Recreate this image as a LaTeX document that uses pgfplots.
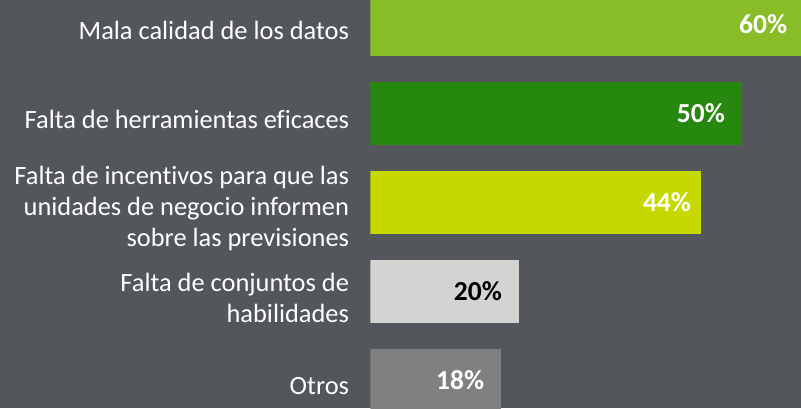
\documentclass[border=0pt]{standalone}
\usepackage{fontspec}
\setmainfont{Carlito}[Ligatures={NoCommon}]
\usepackage{pgfplots}
\pgfplotsset{compat=1.18}
\definecolor{bgcol}{HTML}{53565B}
\definecolor{barA}{HTML}{89BD28}
\definecolor{barB}{HTML}{26880E}
\definecolor{barC}{HTML}{C5D800}
\definecolor{barD}{HTML}{D3D3D2}
\definecolor{barE}{HTML}{808080}

\begin{document}
\begin{tikzpicture}
\path[use as bounding box] (0,0) rectangle (801pt,408pt);
\clip (0,0) rectangle (801pt,408pt);
\fill[bgcol] (0,0) rectangle (801pt,408pt);
\begin{axis}[
  at={(370.5pt,-17pt)}, anchor=south west,
  scale only axis, width=445.8pt, height=445pt,
  xbar, bar width=63pt, bar shift=0pt,
  xmin=0, xmax=60, ymin=-0.5, ymax=4.5, y dir=reverse,
  axis line style={draw=none}, tick style={draw=none},
  xtick=\empty, ytick={0,1,2,3,4},
  yticklabels={Mala calidad de los datos,
    Falta de herramientas eficaces,
    {Falta de incentivos para que las\\unidades de negocio informen\\sobre las previsiones},
    {Falta de conjuntos de\\habilidades},
    Otros},
  yticklabel style={align=right, font=\fontsize{26.4}{31}\selectfont, text=white,
    inner sep=0pt, xshift=-17pt, yshift=-6pt},
  every node near coord/.append style={anchor=east, inner sep=0pt,
    font=\bfseries\fontsize{27.5}{30}\selectfont, text=white},
]
\addplot[draw=none, fill=barA, nodes near coords={60\%},
  every node near coord/.append style={xshift=-29pt}] coordinates {(60,0)};
\addplot[draw=none, fill=barB, nodes near coords={50\%},
  every node near coord/.append style={xshift=-17pt}] coordinates {(50,1)};
\addplot[draw=none, fill=barC, nodes near coords={44\%},
  every node near coord/.append style={xshift=-10pt}] coordinates {(44.5,2)};
\addplot[draw=none, fill=barD, nodes near coords={20\%},
  every node near coord/.append style={xshift=-17pt, text=black}] coordinates {(20,3)};
\addplot[draw=none, fill=barE, nodes near coords={18\%},
  every node near coord/.append style={xshift=-17pt}] coordinates {(17.6,4)};
\end{axis}
\end{tikzpicture}
\end{document}
